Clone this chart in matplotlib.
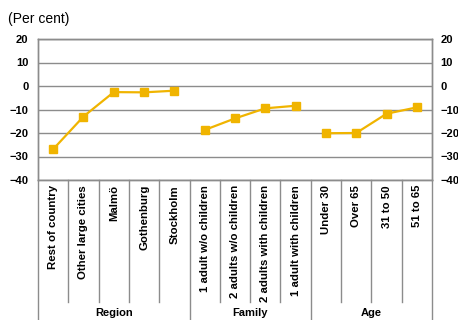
import matplotlib
matplotlib.use("Agg")
import matplotlib.pyplot as plt
import matplotlib.transforms as mtransforms

plt.rcParams['font.family'] = ['Liberation Sans', 'DejaVu Sans']

# category labels, grouped
groups = ['Region', 'Family', 'Age']
group_labels = [
    ['Rest of country', 'Other large cities', 'Malmö', 'Gothenburg', 'Stockholm'],
    ['1 adult w/o children', '2 adults w/o children', '2 adults with children', '1 adult with children'],
    ['Under 30', 'Over 65', '31 to 50', '51 to 65'],
]
group_values = [
    [-26.9, -13.0, -2.6, -2.7, -2.0],
    [-18.7, -13.8, -9.5, -8.4],
    [-20.1, -20.0, -11.8, -9.1],
]
yticks = [20, 10, 0, -10, -20, -30, -40]

line_color = '#F0B400'
frame_color = '#8c8c8c'

fig = plt.figure(figsize=(4.58, 3.2), dpi=100)
ax = fig.add_axes([38 / 458, 1 - 180 / 320, (432 - 38) / 458, 141 / 320])

n_total = sum(len(g) for g in group_labels)
start = 0
for labels, vals in zip(group_labels, group_values):
    xs = list(range(start, start + len(labels)))
    ax.plot(xs, vals, color=line_color, lw=1.6, marker='s', ms=5.5,
            mec=line_color, mfc=line_color, zorder=3)
    start += len(labels)

ax.set_xlim(-0.5, n_total - 0.5)
ax.set_ylim(-40, 20)
ax.set_yticks(yticks)
ax.yaxis.grid(True, color=frame_color, lw=1.0)
ax.set_axisbelow(True)
ax.tick_params(axis='y', length=0, labelsize=8, pad=7)
ax.set_xticks([])
for t in ax.get_yticklabels():
    t.set_fontweight('bold')

# same scale repeated on the right
ax2 = ax.twinx()
ax2.set_ylim(-40, 20)
ax2.set_yticks(yticks)
ax2.tick_params(axis='y', length=0, labelsize=8, pad=6)
for t in ax2.get_yticklabels():
    t.set_fontweight('bold')

for a in (ax, ax2):
    for s in a.spines.values():
        s.set_color(frame_color)
        s.set_linewidth(1.0)

trans = mtransforms.blended_transform_factory(ax.transData, ax.transAxes)

# category labels and separator lines below the axis
idx = 0
group_edges = [-0.5]
for g, labels in zip(groups, group_labels):
    for lab in labels:
        ax.text(idx, -0.035, lab, transform=trans, rotation=90, ha='center', va='top',
                fontsize=8.2, fontweight='bold')
        idx += 1
    group_edges.append(idx - 0.5)
    ax.text((group_edges[-2] + group_edges[-1]) / 2, -0.945, g, transform=trans,
            ha='center', va='center', fontsize=8, fontweight='bold')

for k in range(n_total + 1):
    edge = k - 0.5
    bottom = -1.0 if edge in group_edges else -0.865
    ax.plot([edge, edge], [0, bottom], transform=trans, color=frame_color,
            lw=1.0, clip_on=False)

fig.text(8 / 458, 1 - 19 / 320, '(Per cent)', fontsize=10, va='center', ha='left')

fig.savefig('out.png', dpi=100)
